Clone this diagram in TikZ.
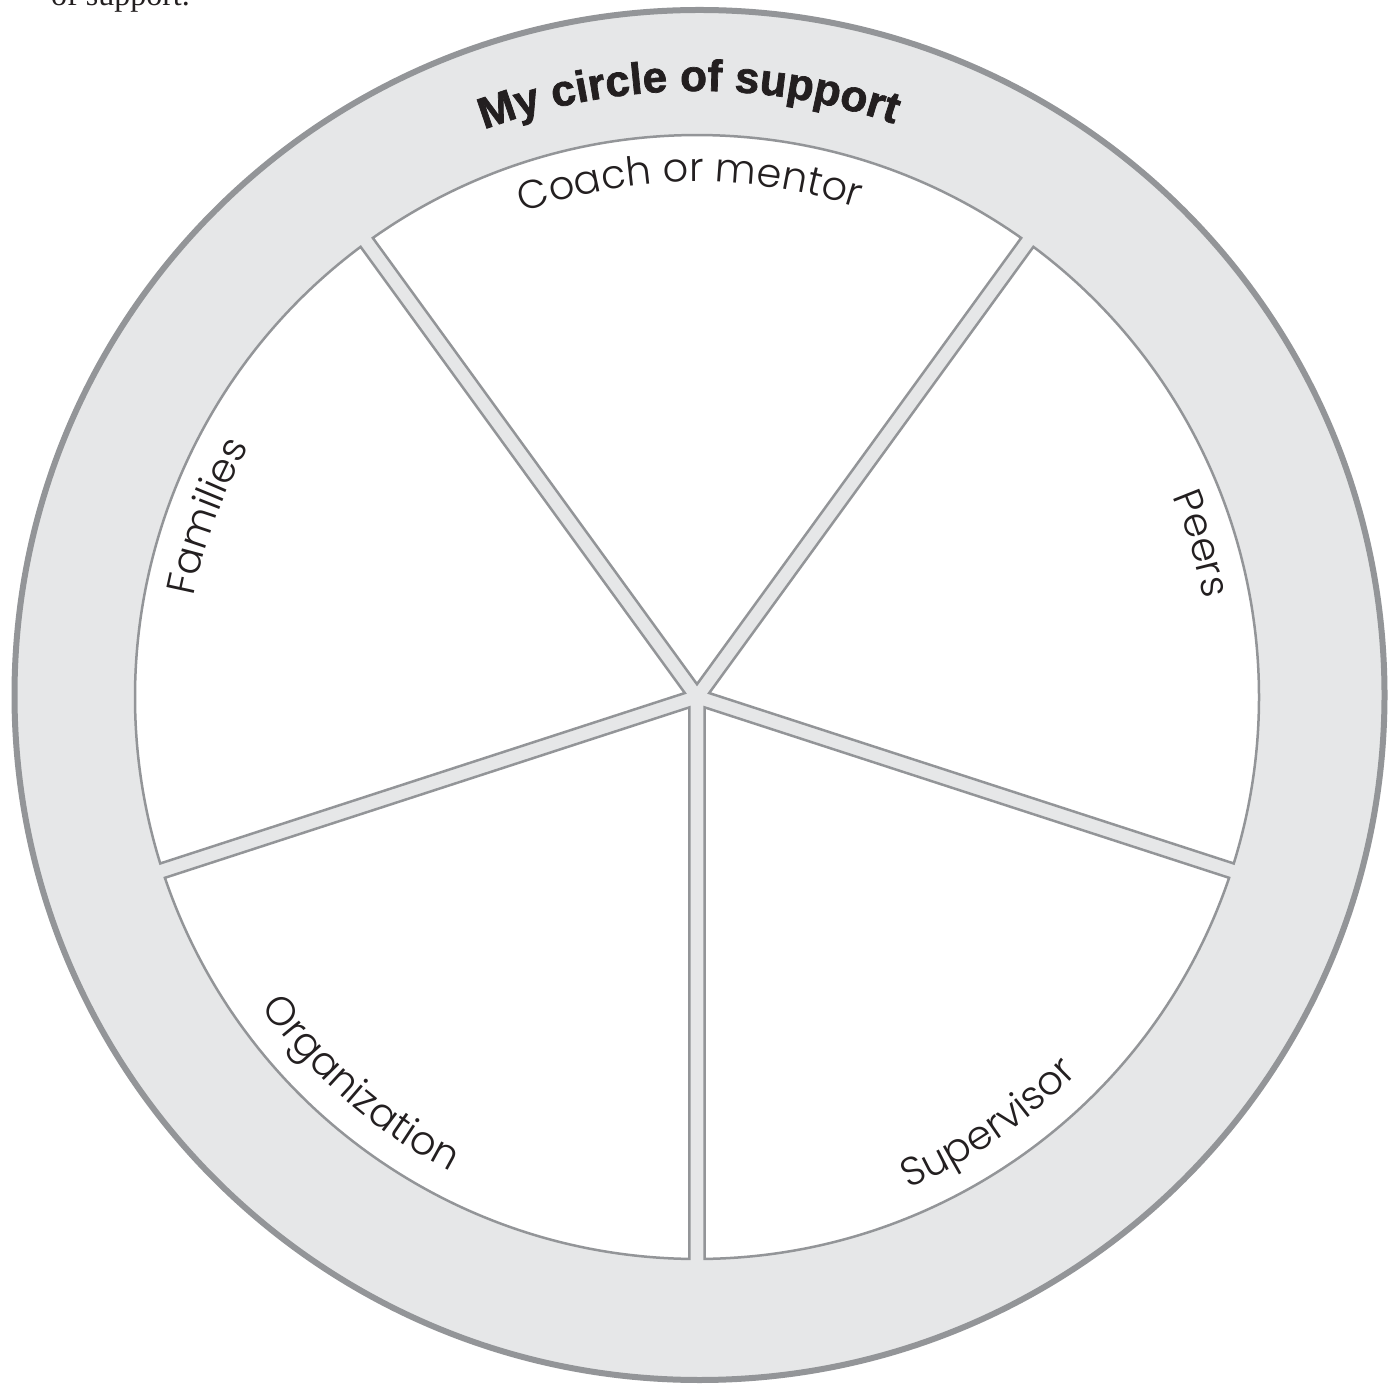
\documentclass[tikz,border=0pt]{standalone}
\usepackage{fontspec}
\usetikzlibrary{decorations.text,calc}
\setmainfont{Liberation Serif}
\newfontfamily\titlefont{Liberation Sans}[BoldFeatures={FakeBold=1.6}]
\newfontfamily\labelfont{Poppins}[UprightFont={* Light}]
\definecolor{ringfill}{HTML}{E6E7E8}
\definecolor{edge}{HTML}{939598}
\definecolor{ink}{HTML}{231F20}
\begin{document}
\begin{tikzpicture}[x=1pt,y=1pt,
  wedge/.style={fill=white, draw=edge, line width=2.5pt, line join=miter},
  ring/.style={fill=ringfill, draw=edge, line width=6pt},
  cwlabel/.style={decorate, decoration={text along path, text align=center,
     text={|\labelfont\fontsize{40}{48}\selectfont\color{ink}|#1}}},
  ccwlabel/.style={decorate, decoration={text along path, text align=center,
     text={|\labelfont\fontsize{40}{48}\selectfont\color{ink}|#1}}}
]
\useasboundingbox (0,0) rectangle (1399,1385);
\fill[white] (0,0) rectangle (1399,1385);
\coordinate (O) at (699.5,690);
\coordinate (C) at (697,688);
\node[anchor=base west, inner sep=0pt, font=\fontsize{32}{38}\selectfont, text=ink] (cap) at (51,1379) {of support.};
\draw[ring] (O) circle[radius=685];
\foreach \a in {-18,54,126,198,270} {
  \pgfmathsetmacro\b{\a+36}
  \pgfmathsetmacro\s{\a+0.77}
  \pgfmathsetmacro\e{\a+72-0.77}
  \draw[wedge] ($(C)+(\b:12.8)$) -- ($(C)+(\s:562)$) arc[start angle=\s, end angle=\e, radius=562] -- cycle;
}
% title
\path[decorate, decoration={text along path, text align=center,
   text={|\titlefont\bfseries\fontsize{44}{50}\selectfont\color{ink}|My circle of support}}]
   ($(C)+(150.8:606)$) arc[start angle=150.8, end angle=30.8, radius=606];
% clockwise labels (tops outward)
\path[cwlabel={Coach or mentor}] ($(C)+(150.8:515)$) arc[start angle=150.8, end angle=30.8, radius=515];
\path[cwlabel={Peers}] ($(C)+(76.9:516)$) arc[start angle=76.9, end angle=-43.1, radius=516];
\path[cwlabel={Families}] ($(C)+(219.8:513)$) arc[start angle=219.8, end angle=99.8, radius=513];
% counter-clockwise labels (tops inward)
\path[ccwlabel={Organization}] ($(C)+(169:535)$) arc[start angle=169, end angle=289, radius=535];
\path[ccwlabel={Supervisor}] ($(C)+(244.3:535)$) arc[start angle=244.3, end angle=364.3, radius=535];
\end{tikzpicture}
\end{document}
